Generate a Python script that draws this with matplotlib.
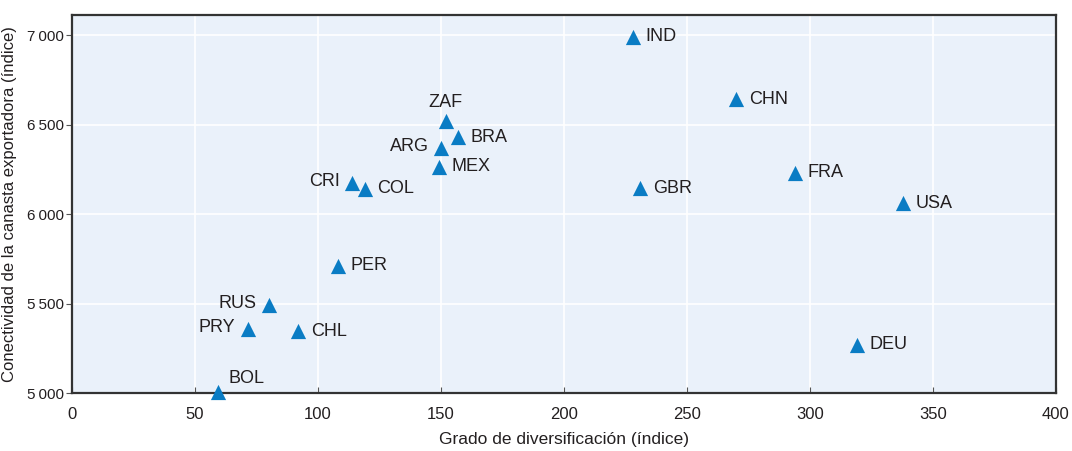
import matplotlib
matplotlib.use("Agg")
import matplotlib.pyplot as plt

countries = ["IND", "CHN", "ZAF", "BRA", "ARG", "MEX", "CRI", "COL", "GBR",
             "FRA", "USA", "PER", "RUS", "PRY", "CHL", "DEU", "BOL"]
diversificacion = [228, 270, 152, 157, 150, 149, 114, 119, 231,
                   294, 338, 108, 80, 71.5, 92, 319, 59.5]
conectividad = [6990, 6640, 6520, 6430, 6370, 6265, 6175, 6140, 6145,
                6230, 6060, 5710, 5490, 5360, 5345, 5270, 5005]
label_side = ["right", "right", "top", "right", "left", "right", "left", "right", "right",
              "right", "right", "right", "left", "left", "right", "right", "topright"]
ytick_values = [5000, 5500, 6000, 6500, 7000]
ytick_labels = ["5\u2009000", "5\u2009500", "6\u2009000", "6\u2009500", "7\u2009000"]

plt.rcParams["font.family"] = ["Liberation Sans", "DejaVu Sans"]

txt = "#231f20"
fig = plt.figure(figsize=(10.72, 4.51), dpi=100)
ax = fig.add_axes([0.0672, 0.1286, 0.9178, 0.8381])
ax.set_facecolor("#eaf1fa")
ax.set_xlim(0, 400)
ax.set_ylim(5000, 7112)
ax.set_xticks(range(0, 401, 50))
ax.set_yticks(ytick_values)
ax.set_yticklabels(ytick_labels)
ax.grid(True, color="white", linewidth=1.2)
ax.set_axisbelow(True)
for s in ax.spines.values():
    s.set_color("#333333")
    s.set_linewidth(1.6)
ax.tick_params(axis="x", direction="in", length=4, color="#555555", labelsize=12, labelcolor=txt, pad=10)
ax.tick_params(axis="y", direction="out", length=4, color="#555555", labelsize=11, labelcolor=txt, pad=2)

ax.scatter(diversificacion, conectividad, marker="^", s=120, color="#0a7cc4",
           zorder=3, clip_on=False, linewidths=0)

offsets = {"right": ((9, 0), "left", "center"),
           "left": ((-9, 1), "right", "center"),
           "top": ((0, 7), "center", "bottom"),
           "topright": ((7, 4), "left", "bottom")}
for c, x, y, side in zip(countries, diversificacion, conectividad, label_side):
    off, ha, va = offsets[side]
    ax.annotate(c, (x, y), xytext=off, textcoords="offset points", ha=ha, va=va,
                fontsize=13, color=txt, zorder=4)

ax.set_xlabel("Grado de diversificación (índice)", fontsize=12.5, color=txt, labelpad=7)
ax.set_ylabel("Conectividad de la canasta exportadora (índice)", fontsize=12, color=txt, labelpad=7)

fig.savefig("out.png", dpi=100)
